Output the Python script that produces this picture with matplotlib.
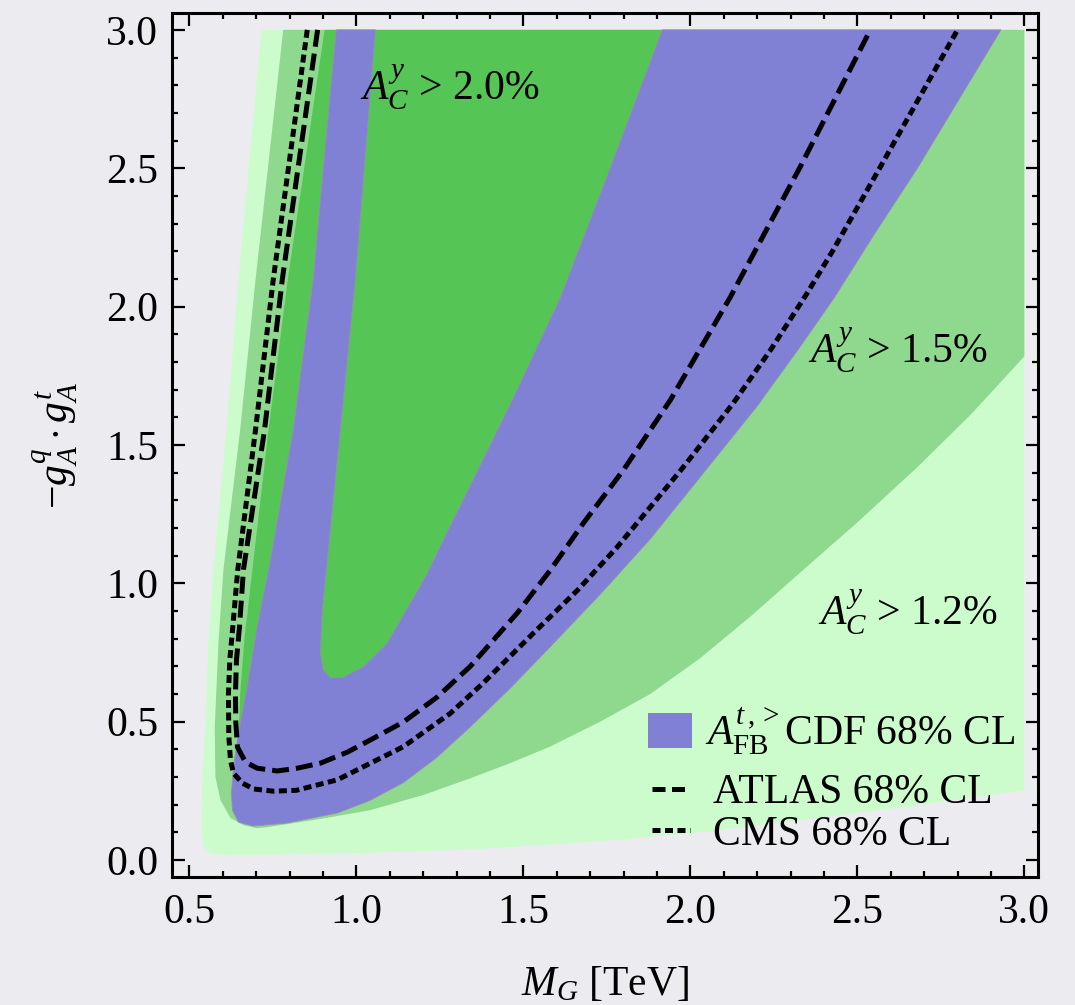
import matplotlib
matplotlib.use("Agg")
import matplotlib.pyplot as plt
from matplotlib.patches import Patch
from matplotlib.lines import Line2D
from matplotlib.ticker import MultipleLocator

plt.rcParams['font.family'] = ['Liberation Serif', 'DejaVu Serif']
plt.rcParams['mathtext.fontset'] = 'custom'
plt.rcParams['mathtext.rm'] = 'Liberation Serif'
plt.rcParams['mathtext.it'] = 'Liberation Serif:italic'
plt.rcParams['mathtext.bf'] = 'Liberation Serif:bold'

# region outlines (M_G in TeV, -gA^q gA^t)
# A_C^y > 1.2 %
light_x = [0.716, 0.647, 0.611, 0.572, 0.557, 0.548, 0.539, 0.536, 0.542, 0.563, 0.623,
           1.0, 1.34, 1.73, 2.03, 2.33, 2.66, 3.0, 3.0]
light_y = [3.0, 2.096, 1.554, 1.05, 0.784, 0.48, 0.30, 0.12, 0.047, 0.025, 0.018,
           0.025, 0.038, 0.068, 0.10, 0.145, 0.195, 0.253, 3.0]
# A_C^y > 1.5 %
med_x = [0.781, 0.698, 0.652, 0.602, 0.587, 0.576, 0.578, 0.593, 0.623, 0.662, 0.703,
         0.74, 0.90, 1.04, 1.20, 1.34, 1.46, 1.58, 1.73, 1.88, 2.03, 2.18, 2.33, 2.50, 2.68,
         2.84, 3.0, 3.0]
med_y = [3.0, 2.096, 1.554, 1.05, 0.784, 0.48, 0.30, 0.217, 0.152, 0.126, 0.115,
         0.12, 0.15, 0.18, 0.235, 0.295, 0.35, 0.41, 0.50, 0.60, 0.73, 0.88, 1.04, 1.22, 1.42,
         1.61, 1.82, 3.0]
# A_C^y > 2.0 %
dark_x = [0.905, 0.795, 0.737, 0.685, 0.665, 0.652, 0.648, 0.68, 0.75, 1.0, 1.4, 1.8, 2.2, 2.5]
dark_y = [3.0, 2.1, 1.554, 1.01, 0.80, 0.6, 0.46, 0.36, 0.33, 0.45, 0.85, 1.4, 2.1, 3.0]
# A_FB^{t,>} CDF 68% CL band (outer edge, then inner edge back up)
cdf_x = [0.94, 0.905, 0.871, 0.811, 0.743, 0.703, 0.673, 0.647, 0.632, 0.626, 0.629, 0.647, 0.692,
         0.793, 0.943, 1.04, 1.141, 1.24, 1.34, 1.46, 1.58, 1.73, 1.88, 2.08, 2.20, 2.32, 2.43,
         2.55, 2.68, 2.80, 2.93,
         1.916, 1.76, 1.61, 1.47, 1.34, 1.27, 1.21, 1.162, 1.093, 1.021, 0.961, 0.922, 0.901,
         0.892, 0.898, 0.913, 0.952, 0.997, 1.057]
cdf_y = [3.0, 2.55, 2.1, 1.554, 1.084, 0.842, 0.625, 0.459, 0.336, 0.242, 0.181, 0.137, 0.123,
         0.134, 0.17, 0.215, 0.28, 0.37, 0.48, 0.62, 0.77, 0.96, 1.16, 1.46, 1.64, 1.84, 2.03,
         2.26, 2.5, 2.74, 3.0,
         3.0, 2.5, 2.03, 1.67, 1.35, 1.18, 1.03, 0.929, 0.784, 0.698, 0.661, 0.658, 0.687,
         0.748, 0.904, 1.084, 1.554, 2.1, 3.0]
# ATLAS 68% CL
atlas_x = [0.884, 0.778, 0.725, 0.662, 0.65, 0.641, 0.638, 0.639, 0.644, 0.668, 0.703, 0.763,
           0.823, 0.892, 0.973, 1.042, 1.141, 1.242, 1.341, 1.482, 1.581, 1.68, 1.80, 1.94,
           2.12, 2.329, 2.539]
atlas_y = [3.0, 2.096, 1.554, 1.05, 0.842, 0.723, 0.60, 0.50, 0.408, 0.354, 0.332, 0.322,
           0.332, 0.35, 0.39, 0.434, 0.499, 0.589, 0.70, 0.893, 1.048, 1.218, 1.41, 1.662,
           2.035, 2.505, 3.0]
# CMS 68% CL
cms_x = [0.853, 0.751, 0.698, 0.645, 0.630, 0.621, 0.617, 0.618, 0.623, 0.632, 0.659, 0.692,
         0.752, 0.82, 0.943, 1.141, 1.281, 1.380, 1.53, 1.662, 1.781, 1.979, 2.129, 2.24, 2.35,
         2.428, 2.569, 2.80]
cms_y = [3.0, 2.096, 1.554, 1.05, 0.842, 0.723, 0.60, 0.45, 0.361, 0.314, 0.278, 0.257,
         0.249, 0.252, 0.29, 0.41, 0.53, 0.64, 0.82, 0.975, 1.131, 1.42, 1.652, 1.843, 2.049,
         2.205, 2.505, 3.0]

xticks = [0.5, 1.0, 1.5, 2.0, 2.5, 3.0]
yticks = [0.0, 0.5, 1.0, 1.5, 2.0, 2.5, 3.0]
xtick_labels = ['0.5', '1.0', '1.5', '2.0', '2.5', '3.0']
ytick_labels = ['0.0', '0.5', '1.0', '1.5', '2.0', '2.5', '3.0']

bg = '#ececf0'
fig = plt.figure(figsize=(10.75, 10.05), dpi=100, facecolor=bg)
ax = fig.add_axes([0.160, 0.1274, 0.8056, 0.8597])
ax.set_facecolor(bg)

ax.fill(light_x, light_y, color='#ccfccc', lw=0)
ax.fill(med_x, med_y, color='#8fd98f', lw=0)
ax.fill(dark_x, dark_y, color='#55c555', lw=0)
ax.fill(cdf_x, cdf_y, facecolor='#8080d4', edgecolor='#9a8cb4', lw=0.6)

ax.plot(atlas_x, atlas_y, color='black', lw=3.6, dashes=(3.4, 1.4))
ax.plot(cms_x, cms_y, color='black', lw=3.6, dashes=(1.6, 0.9))

fs = 30
ax.text(1.012, 2.747, r'$A_C^y$ > 2.0%', fontsize=fs)
ax.text(2.353, 1.796, r'$A_C^y$ > 1.5%', fontsize=fs)
ax.text(2.383, 0.849, r'$A_C^y$ > 1.2%', fontsize=fs)

# legend: band entry and line entries placed separately
leg1 = ax.legend([Patch(facecolor='#8080d4', edgecolor='none')],
                 [r'$A_{\mathrm{FB}}^{t\,,>}$CDF 68% CL'],
                 loc='center left', bbox_to_anchor=(0.5497, 0.169),
                 frameon=False, fontsize=fs, handlelength=1.055, handleheight=0.91,
                 handletextpad=0.31, borderpad=0, borderaxespad=0)
ax.add_artist(leg1)
line_handles = [Line2D([], [], color='black', lw=3.6, dashes=(2.6, 1.3)),
                Line2D([], [], color='black', lw=3.6, dashes=(1.6, 0.9))]
ax.legend(line_handles, ['ATLAS 68% CL', 'CMS 68% CL'],
          loc='center left', bbox_to_anchor=(0.5543, 0.073),
          frameon=False, fontsize=fs, handlelength=0.91,
          handletextpad=0.55, labelspacing=0.08, borderpad=0, borderaxespad=0)

ax.set_xlim(0.448, 3.041)
ax.set_ylim(-0.061, 3.061)
ax.set_xticks(xticks)
ax.set_xticklabels(xtick_labels)
ax.set_yticks(yticks)
ax.set_yticklabels(ytick_labels)
ax.xaxis.set_minor_locator(MultipleLocator(0.1))
ax.yaxis.set_minor_locator(MultipleLocator(0.1))
ax.tick_params(which='both', direction='in', top=True, right=True, labelsize=fs, width=1.6)
ax.tick_params(which='major', length=9)
ax.tick_params(which='minor', length=4.5)
ax.tick_params(axis='x', pad=12)
ax.tick_params(axis='y', pad=10)
for s in ax.spines.values():
    s.set_linewidth(2.2)

ax.set_xlabel(r'$M_G$ [TeV]', fontsize=fs, labelpad=24)
ax.set_ylabel(r'$-g_A^q \cdot g_A^t$', fontsize=fs)
ax.yaxis.set_label_coords(-0.106, 0.5)

fig.savefig('out.png', dpi=100, facecolor=bg)
